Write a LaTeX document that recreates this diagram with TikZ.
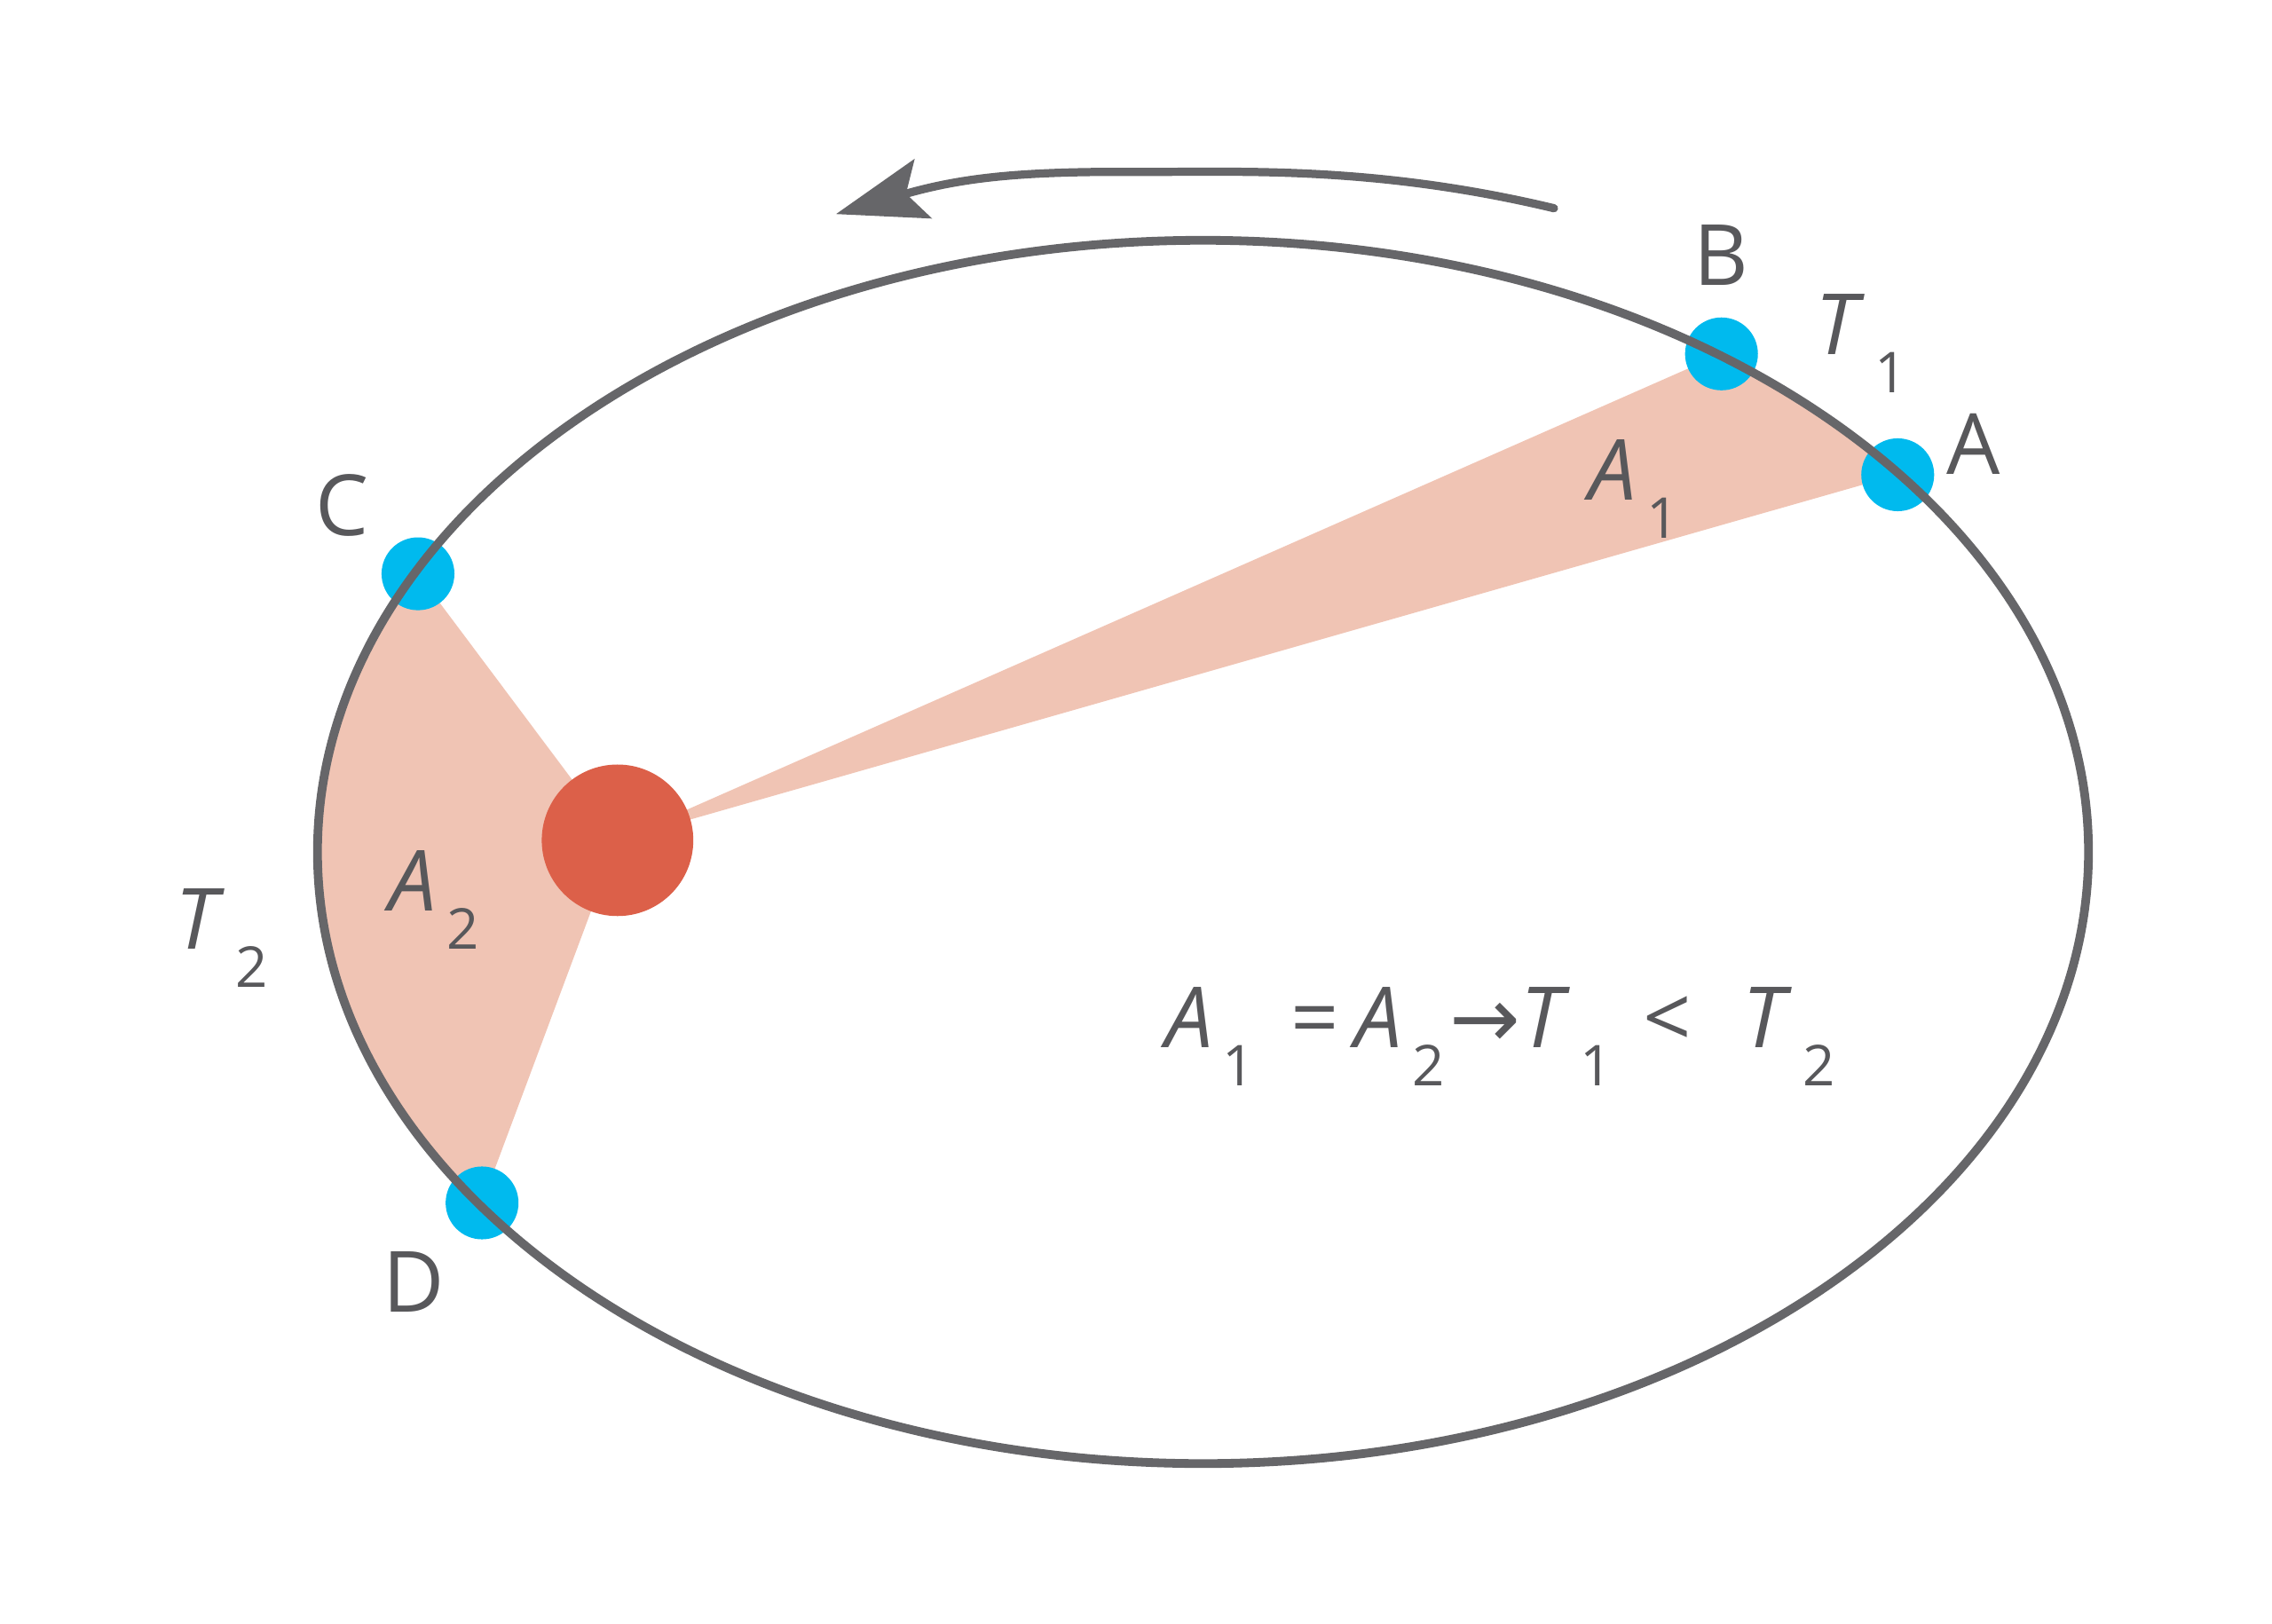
\documentclass[tikz,border=0pt]{standalone}
\usepackage{fontspec}
\setmainfont{Open Sans}
\newfontfamily\symf{DejaVu Sans}
\usetikzlibrary{arrows.meta,calc}
\definecolor{orb}{HTML}{666669}
\definecolor{txt}{HTML}{58585B}
\definecolor{peach}{HTML}{F0C4B4}
\definecolor{sunc}{HTML}{DC6049}
\definecolor{planet}{HTML}{00BAEE}
\newcommand\withsub[2]{\textit{#1}\hspace{2pt}\raisebox{-0.45em}{\fontsize{11}{11}\selectfont #2}}
\begin{document}
\begin{tikzpicture}[x=0.01cm,y=-0.01cm,
  lbl/.style={text=txt,font=\fontsize{16.5}{18}\selectfont,inner sep=0pt},
  pl/.style={circle,fill=planet,minimum size=0.5cm,inner sep=0pt}]
\useasboundingbox (0,0) rectangle (1560,1115);
\coordinate (O) at (826,585);
\coordinate (S) at (424,577);
\begin{scope}
\clip (O) ellipse [x radius=608,y radius=420];
\fill[peach] (S) -- ($(S)!3!(1182,243)$) -- ($(S)!3!(1303,326)$) -- cycle;
\fill[peach] (S) -- ($(S)!3!(287,394)$) -- (-500,585) -- ($(S)!3!(331,826)$) -- cycle;
\end{scope}
\node[pl] (A) at (1303,326) {};
\node[pl] (B) at (1182,243) {};
\node[pl] (C) at (287,394) {};
\node[pl] (D) at (331,826) {};
\draw[orb,line width=1.7pt] (O) ellipse [x radius=608,y radius=420];
\node[circle,fill=sunc,minimum size=1.04cm,inner sep=0pt] (sun) at (S) {};
\coordinate (a1) at (1067,143);
\coordinate (a2) at (574,147);
\draw[orb,line width=1.6pt,line cap=round,-{Stealth[length=0.62cm,width=0.42cm,inset=0.12cm]}]
  (a1) .. controls (950,115) and (860,118) .. (800,118) -- (770,118) .. controls (700,118) and (660,122) .. (a2);
\node[lbl] (lB) at (1182,175) {B};
\node[lbl] (lA) at (1355,305) {A};
\node[lbl] (lC) at (235,347) {C};
\node[lbl] (lD) at (284,880) {D};
\node[lbl] (lT1) at (1278,236) {\withsub{T}{1}};
\node[lbl] (lA1) at (1122,336) {\withsub{A}{1}};
\node[lbl] (lA2) at (298,618) {\withsub{A}{2}};
\node[lbl] (lT2) at (152,644) {\withsub{T}{2}};
\node[lbl] (eq) at (1030,712) {\withsub{A}{1}\hspace{7pt}=\hspace{3pt}\withsub{A}{2}\hspace{1pt}{\symf →}\withsub{T}{1}\hspace{6pt}<\hspace{10pt}\withsub{T}{2}};
\end{tikzpicture}
\end{document}
